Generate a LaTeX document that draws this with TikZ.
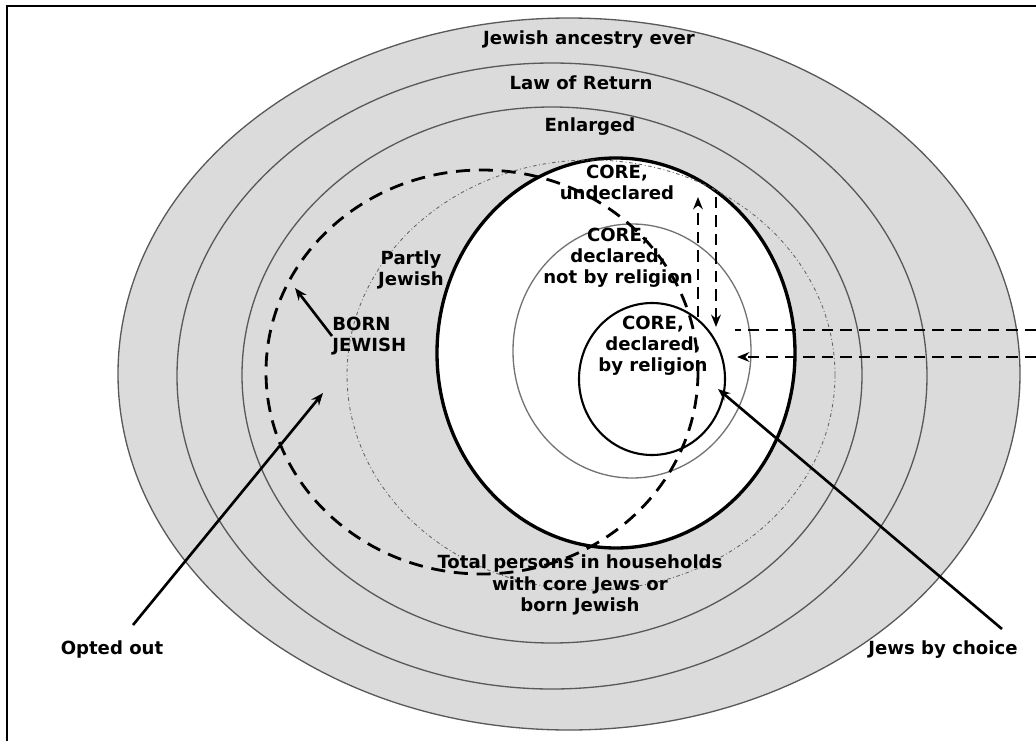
\documentclass[tikz,border=0pt]{standalone}
\usepackage{fontspec}
\setmainfont{DejaVu Sans}
\usetikzlibrary{arrows.meta}

\tikzset{
  ring/.style={draw=black!65, line width=0.75pt},
  corering/.style={draw=black, line width=1.9pt},
  bornring/.style={draw=black, line width=1.6pt, dash pattern=on 8pt off 5pt},
  partring/.style={draw=black!60, line width=0.5pt, dash pattern=on 2pt off 1.5pt on 0.5pt off 1.5pt},
  flow/.style={->, line width=1.5pt},
  dflow/.style={line width=1.5pt, dash pattern=on 6.5pt off 4pt},
  lbl/.style={font=\bfseries\fontsize{10.3}{12}\selectfont, align=center, inner sep=0pt},
}

\begin{document}
\begin{tikzpicture}[x=0.02cm, y=-0.02cm, >={Stealth[length=7pt, width=5.5pt]}]
  \useasboundingbox (0,0) rectangle (1036,741);
  \draw[line width=1.1pt] (7,741) -- (7,6) -- (1036,6);

  % nested populations
  \filldraw[ring, fill=black!14] (569,374) ellipse [x radius=451, y radius=356];
  \draw[ring] (552,376) ellipse [x radius=375, y radius=313];
  \draw[ring] (552,375) ellipse [x radius=310, y radius=268];
  \filldraw[corering, fill=white] (616,353) ellipse [x radius=179, y radius=195];
  \draw[partring] (591,375) ellipse [x radius=244, y radius=215];
  \draw[ring, draw=black!55] (632,351) ellipse [x radius=119, y radius=127];
  \draw[draw=black, line width=1.2pt] (652,379) ellipse [x radius=73, y radius=76];
  \draw[bornring] (482,372) ellipse [x radius=216, y radius=202];

  % labels
  \node[lbl] (ancestry) at (589,40) {Jewish ancestry ever};
  \node[lbl] (lawreturn) at (581,83) {Law of Return};
  \node[lbl] (enlarged) at (590,127) {Enlarged};
  \node[lbl] (undecl) at (617,182) {CORE,\\undeclared};
  \node[lbl] (notrelig) at (618,258) {CORE,\\declared,\\not by religion};
  \node[lbl] (byrelig) at (653,346) {CORE,\\declared,\\by religion};
  \node[lbl] (partly) at (411,270) {Partly\\Jewish};
  \node[lbl, anchor=west, align=left] (born) at (332,336) {BORN\\JEWISH};
  \node[lbl] (total) at (580,585) {Total persons in households\\with core Jews or\\born Jewish};
  \node[lbl] (optedout) at (112,650) {Opted out};
  \node[lbl] (choice) at (943,650) {Jews by choice};

  % arrow ends
  \coordinate (borntip) at (295,288);
  \coordinate (optfoot) at (133,625);
  \coordinate (opttip) at (323,393);
  \coordinate (choicefoot) at (1002,629);
  \coordinate (choicetip) at (718,389);
  \coordinate (upfoot) at (698,317);
  \coordinate (uptip) at (698,197);
  \coordinate (downfoot) at (716,197);
  \coordinate (downtip) at (716,327);
  \coordinate (outtop) at (1036,330);
  \coordinate (intop) at (735,330);
  \coordinate (outbot) at (1036,357);
  \coordinate (inbot) at (737,357);

  \draw[flow] (born.west) -- (borntip);
  \draw[flow] (optfoot) -- (opttip);
  \draw[flow] (choicefoot) -- (choicetip);
  \draw[dflow, ->] (upfoot) -- (uptip);
  \draw[dflow, ->] (downfoot) -- (downtip);
  \draw[dflow] (outtop) -- (intop);
  \draw[dflow, ->] (outbot) -- (inbot);
\end{tikzpicture}
\end{document}
